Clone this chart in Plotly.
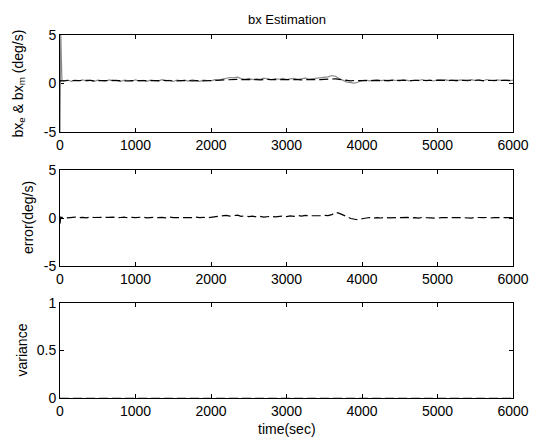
import plotly.graph_objects as go
from plotly.subplots import make_subplots

# time base (s): dense start, then every 50 s
t = [0, 10, 25] + list(range(50, 6001, 50))

# estimated bias bx_e (deg/s)
bx_e = [0.20, 0.30, 0.28,
        0.30, 0.27, 0.32, 0.29, 0.31, 0.26, 0.30, 0.33, 0.28, 0.30,
        0.31, 0.27, 0.29, 0.32, 0.30, 0.28, 0.31, 0.26, 0.30, 0.29,
        0.33, 0.28, 0.30, 0.31, 0.27, 0.29, 0.32, 0.30, 0.28, 0.31,
        0.27, 0.30, 0.32, 0.29, 0.28, 0.31, 0.30, 0.27, 0.29, 0.33,
        0.30, 0.34,
        0.38, 0.42, 0.37, 0.40, 0.43, 0.39, 0.41, 0.38, 0.42, 0.40,
        0.37, 0.41, 0.43, 0.39, 0.40, 0.42, 0.38, 0.41, 0.39, 0.43,
        0.40, 0.38, 0.42, 0.41, 0.39, 0.43, 0.40, 0.42, 0.44, 0.45,
        0.48, 0.42, 0.36, 0.31,
        0.28, 0.31, 0.33, 0.30, 0.29, 0.32, 0.34, 0.31, 0.30, 0.33,
        0.35, 0.32, 0.31, 0.34, 0.33, 0.30, 0.32, 0.35, 0.33, 0.31,
        0.34, 0.32, 0.30, 0.33, 0.35, 0.31, 0.32, 0.34, 0.30, 0.33,
        0.32, 0.35, 0.31, 0.33, 0.34, 0.30, 0.32, 0.33, 0.35, 0.31,
        0.33, 0.32, 0.34, 0.33]

# measured bias bx_m (deg/s)
bx_m = [-5.2, 5.2, 0.35,
        0.25, 0.36, 0.22, 0.34, 0.28, 0.38, 0.24, 0.33, 0.21, 0.35,
        0.30, 0.23, 0.37, 0.27, 0.34, 0.20, 0.36, 0.29, 0.24, 0.38,
        0.26, 0.33, 0.22, 0.35, 0.30, 0.25, 0.39, 0.28, 0.32, 0.21,
        0.36, 0.27, 0.34, 0.24, 0.38, 0.29, 0.23, 0.35, 0.31, 0.26,
        0.40, 0.33,
        0.45, 0.55, 0.62, 0.58, 0.65, 0.50, 0.44, 0.52, 0.40, 0.48,
        0.42, 0.55, 0.46, 0.39, 0.50, 0.44, 0.53, 0.41, 0.47, 0.52,
        0.43, 0.49, 0.55, 0.46, 0.51, 0.50, 0.55, 0.60, 0.68, 0.82,
        0.75, 0.50, 0.30, 0.15,
        0.10, 0.05, 0.15, 0.30, 0.36, 0.27, 0.34, 0.40, 0.29, 0.35,
        0.25, 0.38, 0.31, 0.27, 0.39, 0.33, 0.24, 0.36, 0.30, 0.41,
        0.28, 0.34, 0.26, 0.37, 0.32, 0.40, 0.29, 0.35, 0.25, 0.38,
        0.33, 0.27, 0.39, 0.30, 0.36, 0.26, 0.41, 0.32, 0.28, 0.37,
        0.31, 0.35, 0.27, 0.34]

# estimation error (deg/s)
err = [-0.60, 0.10, 0.05,
       0.08, 0.02, 0.06, 0.10, 0.03, 0.07, 0.01, 0.09, 0.05, 0.04,
       0.08, 0.00, 0.06, 0.10, 0.03, 0.05, 0.09, 0.02, 0.07, 0.04,
       0.06, 0.10, 0.01, 0.05, 0.08, 0.03, 0.07, 0.02, 0.09, 0.04,
       0.06, 0.01, 0.08, 0.05, 0.03, 0.10, 0.04, 0.07, 0.02, 0.06,
       0.12, 0.15,
       0.22, 0.28, 0.20, 0.25, 0.30, 0.18, 0.23, 0.15, 0.20, 0.12,
       0.17, 0.10, 0.14, 0.18, 0.11, 0.16, 0.20, 0.14, 0.22, 0.18,
       0.25, 0.20, 0.27, 0.23, 0.21, 0.26, 0.24, 0.28, 0.25, 0.35,
       0.60, 0.48, 0.35, 0.15,
       -0.05, -0.15, -0.20, -0.08, 0.02, 0.05, -0.02, 0.04, 0.00, 0.06,
       0.01, 0.03, -0.02, 0.05, 0.02, 0.07, 0.00, 0.04, -0.01, 0.06,
       0.03, 0.01, 0.05, -0.02, 0.04, 0.02, 0.06, 0.00, 0.03, 0.05,
       0.01, 0.04, -0.01, 0.06, 0.02, 0.03, 0.05, 0.00, 0.04, 0.02,
       0.06, 0.01, 0.03, 0.04]

# variance of the estimate
var_t = [0, 6000]
var = [0.0, 0.0]

x_ticks = [0, 1000, 2000, 3000, 4000, 5000, 6000]

W, H = 536, 437
L, R, T, B = 60, 23, 35, 39
pw = W - L - R
ph = H - T - B
bot = H - B


def dom(top_px, bottom_px):
    return [(bot - bottom_px) / ph, (bot - top_px) / ph]


def px_x(px):
    return (px - L) / pw


def px_y(py):
    return (bot - py) / ph


fig = make_subplots(rows=3, cols=1)

GRAY = "#8a8a8a"
DASH = "9px,4px"
fig.add_trace(go.Scatter(x=t, y=bx_m, mode="lines",
                         line=dict(color=GRAY, width=1.2)), row=1, col=1)
fig.add_trace(go.Scatter(x=t, y=bx_e, mode="lines",
                         line=dict(color="black", width=1.2, dash=DASH)),
              row=1, col=1)
fig.add_trace(go.Scatter(x=t, y=err, mode="lines",
                         line=dict(color="black", width=1.2, dash=DASH)),
              row=2, col=1)
fig.add_trace(go.Scatter(x=var_t, y=var, mode="lines",
                         line=dict(color=GRAY, width=1.2, dash=DASH)),
              row=3, col=1)

FAM = "Liberation Sans, Arial, sans-serif"
font = dict(family=FAM, size=14, color="black")
axis_style = dict(showline=True, linecolor="black", linewidth=1, mirror="ticks",
                  ticks="inside", ticklen=4, tickcolor="black", showgrid=False,
                  zeroline=False, tickfont=font, automargin=False)

panels = [(35, 132), (170, 266), (303, 398)]
yranges = [[-5, 5], [-5, 5], [0, 1]]
yticks = [[-5, 0, 5], [-5, 0, 5], [0, 0.5, 1]]
ytexts = [["-5", "0", "5"], ["-5", "0", "5"], ["0", "0.5", "1"]]
ytitles = ["bx<sub>e</sub> & bx<sub>m</sub> (deg/s)", "error(deg/s)", "variance"]
ytitle_x = [19, 28, 21]

for i in range(3):
    n = "" if i == 0 else str(i + 1)
    fig.layout["xaxis" + n].update(range=[0, 6000], tickvals=x_ticks,
                                   ticktext=[str(v) for v in x_ticks],
                                   anchor="y" + n, **axis_style)
    fig.layout["yaxis" + n].update(domain=dom(*panels[i]), range=yranges[i],
                                   tickvals=yticks[i], ticktext=ytexts[i],
                                   **axis_style)
    fig.add_annotation(text=ytitles[i], textangle=-90, showarrow=False,
                       xref="paper", yref="paper",
                       x=px_x(ytitle_x[i]), y=px_y((panels[i][0] + panels[i][1]) / 2),
                       xanchor="center", yanchor="middle", font=font)

# the measured trace's start-up transient runs along the left edge, on top of the axis
fig.layout.yaxis.layer = "below traces"

fig.add_annotation(text="time(sec)", showarrow=False, xref="paper", yref="paper",
                   x=px_x(287), y=px_y(429), xanchor="center", yanchor="middle",
                   font=font)

fig.add_annotation(text="bx Estimation", x=px_x(287), xref="paper",
                   y=px_y(20), yref="paper", xanchor="center", yanchor="middle",
                   showarrow=False, font=dict(family=FAM, size=13, color="black"))

fig.update_layout(width=W, height=H, margin=dict(l=L, r=R, t=T, b=B),
                  paper_bgcolor="white", plot_bgcolor="white", showlegend=False)

fig.write_html("out.html")
